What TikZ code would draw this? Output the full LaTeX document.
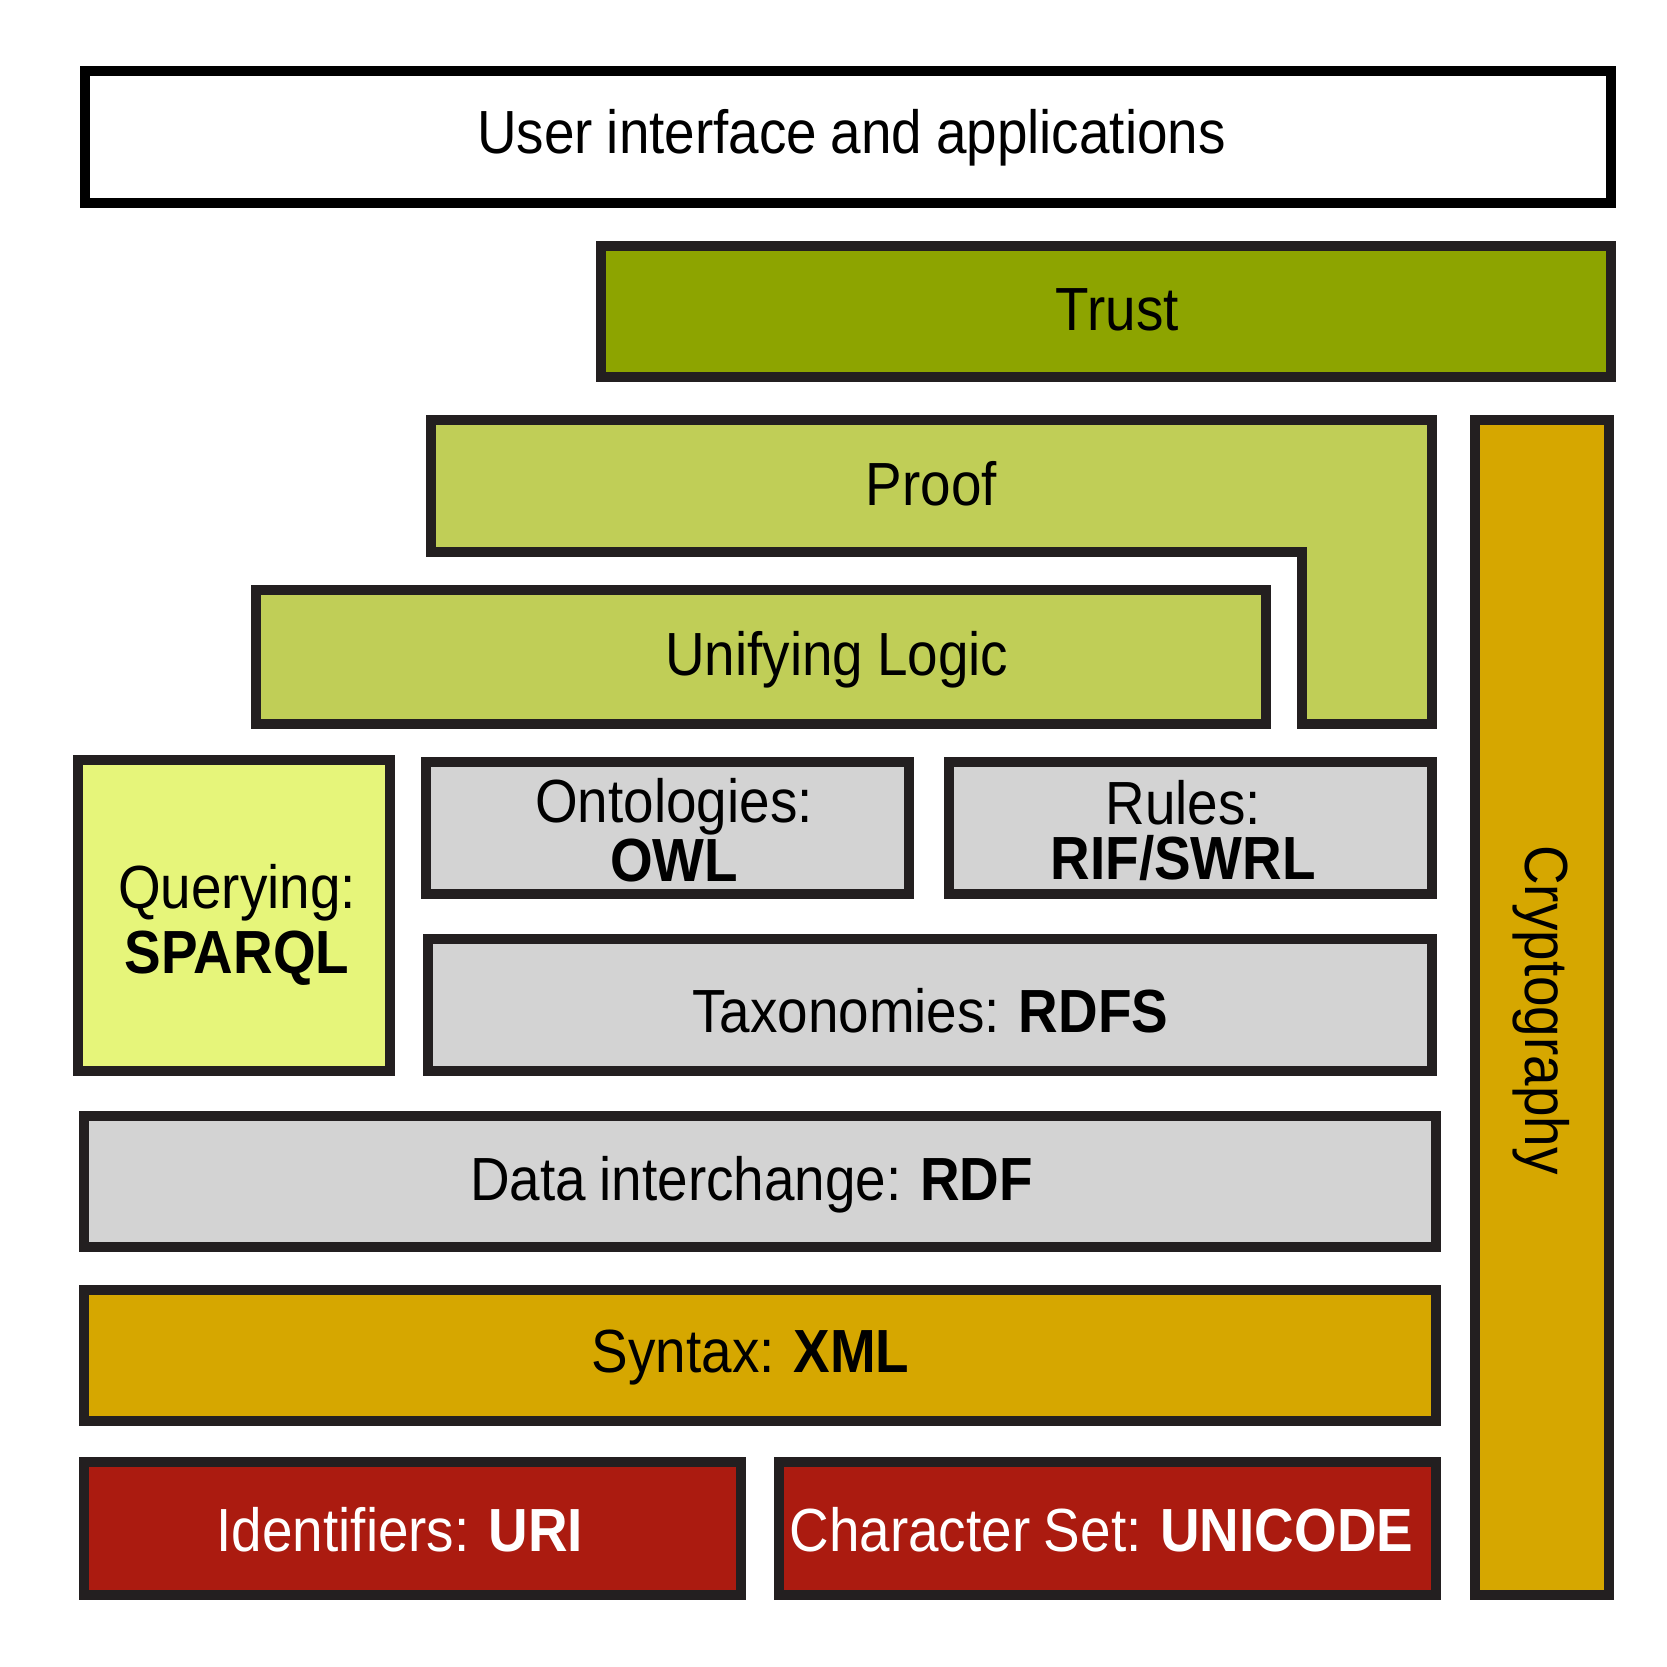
\documentclass[tikz,border=0pt]{standalone}
\usepackage{fontspec}
\setmainfont{Liberation Sans}[FakeStretch=0.9, WordSpace=0.9]
\definecolor{edge}{HTML}{231F20}
\definecolor{trustgreen}{HTML}{8DA400}
\definecolor{logicgreen}{HTML}{C0CE57}
\definecolor{querygreen}{HTML}{E6F57A}
\definecolor{stackgray}{HTML}{D3D3D3}
\definecolor{syntaxgold}{HTML}{D6A700}
\definecolor{baseRed}{HTML}{AB1B10}
\tikzset{
    layer/.style={draw=edge, line width=2.67pt, line join=miter},
    label/.style={inner sep=0pt, font=\fontsize{16.3}{14.6}\selectfont, align=center}
}
\begin{document}
\begin{tikzpicture}[x=0.01cm, y=-0.01cm]
    \useasboundingbox (0,0) rectangle (1568,1568);
    \draw[layer, draw=black, fill=white] (80,67) rectangle (1515,191);
    \draw[layer, fill=trustgreen] (565,231) rectangle (1515,355);
    \draw[layer, fill=syntaxgold] (1387,395) rectangle (1513,1500);
    \draw[layer, fill=logicgreen] (405,395) -- (1347,395) -- (1347,681) -- (1225,681) -- (1225,519) -- (405,519) -- cycle;
    \draw[layer, fill=logicgreen] (241,555) rectangle (1191,681);
    \draw[layer, fill=querygreen] (73,715) rectangle (367,1007);
    \draw[layer, fill=stackgray] (401,717) rectangle (855,841);
    \draw[layer, fill=stackgray] (893,717) rectangle (1347,841);
    \draw[layer, fill=stackgray] (403,883) rectangle (1347,1007);
    \draw[layer, fill=stackgray] (79,1050) rectangle (1351,1173);
    \draw[layer, fill=syntaxgold] (79,1213) rectangle (1351,1337);
    \draw[layer, fill=baseRed] (79,1375) rectangle (697,1500);
    \draw[layer, fill=baseRed] (733,1375) rectangle (1351,1500);

    \node[label] (ui) at (801,130) {User interface and applications};
    \node[label] (trust) at (1051,291) {Trust};
    \node[label] (proof) at (876,455) {Proof};
    \node[label] (logic) at (787,621) {Unifying Logic};
    \node[label, font=\fontsize{16.3}{17.6}\selectfont] (query) at (223,870) {Querying:\\\textbf{SPARQL}};
    \node[label] (onto) at (634,781) {Ontologies:\\\textbf{OWL}};
    \node[label] (rules) at (1113,781) {Rules:\\\textbf{RIF/SWRL}};
    \node[label] (rdfs) at (875,951) {Taxonomies: \textbf{RDFS}};
    \node[label] (rdf) at (707,1114) {Data interchange: \textbf{RDF}};
    \node[label] (xml) at (706,1277) {Syntax: \textbf{XML}};
    \node[label, text=white] (uri) at (376,1439) {Identifiers: \textbf{URI}};
    \node[label, text=white] (unicode) at (1036,1439) {Character Set: \textbf{UNICODE}};
    \node[label, rotate=-90] (crypto) at (1450,950) {Cryptography};
\end{tikzpicture}
\end{document}
